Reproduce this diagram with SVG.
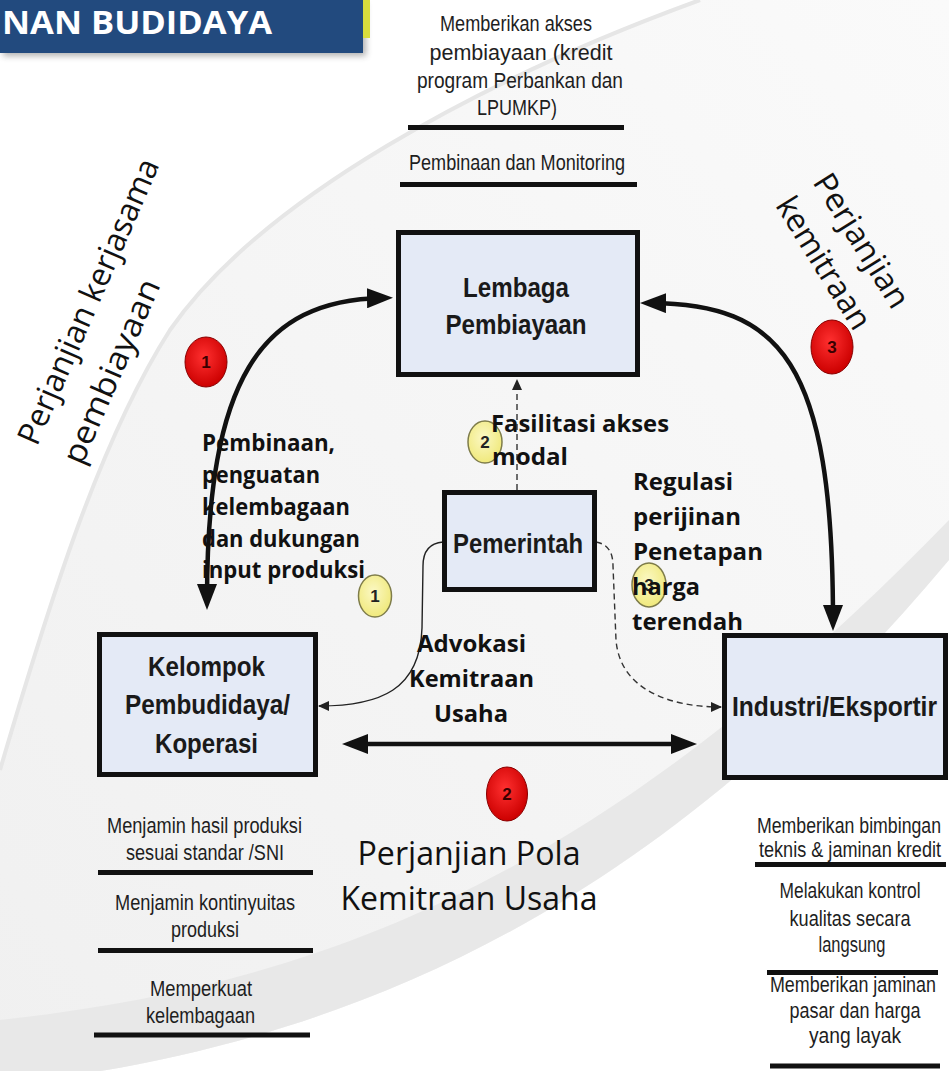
<svg xmlns="http://www.w3.org/2000/svg" width="949" height="1071" viewBox="0 0 949 1071">
<defs>
<style>
.nar{font-family:"Liberation Sans Narrow","Liberation Sans",Arial,sans-serif;font-size:22px;fill:#1e1e1e;text-anchor:middle}
.nodeT{font-family:"Liberation Sans Narrow","Liberation Sans",Arial,sans-serif;font-size:28px;font-weight:bold;fill:#1a1a1a;text-anchor:middle}
.lbl{font-family:"Open Sans","Noto Sans",sans-serif;font-size:23px;font-weight:bold;fill:#111}
.big{font-family:"Open Sans","Noto Sans",sans-serif;font-size:32px;fill:#111}
.num{font-family:"Liberation Sans Narrow","Liberation Sans",Arial,sans-serif;font-size:17px;font-weight:bold;text-anchor:middle}
.box{fill:#e4eaf6;stroke:#111;stroke-width:5}
.bar{stroke:#111;stroke-width:5}
.thick{fill:none;stroke:#111;stroke-width:4.5}
.thin{fill:none;stroke:#222;stroke-width:1.4}
.dash{fill:none;stroke:#333;stroke-width:1.4;stroke-dasharray:6 4}
.red{fill:url(#gRed);stroke:#8a0000;stroke-width:1}
.yel{fill:url(#gYel);stroke:#7e7c4a;stroke-width:1.5}
</style>
<linearGradient id="gBg" x1="1" y1="0" x2="0" y2="1">
<stop offset="0" stop-color="#fafafa"/>
<stop offset="1" stop-color="#f0f0f0"/>
</linearGradient>
<radialGradient id="gRed" cx="0.45" cy="0.4" r="0.6">
<stop offset="0" stop-color="#ff3030"/>
<stop offset="1" stop-color="#cc0000"/>
</radialGradient>
<radialGradient id="gYel" cx="0.45" cy="0.4" r="0.6">
<stop offset="0" stop-color="#fbf8c4"/>
<stop offset="1" stop-color="#f0e97c"/>
</radialGradient>
<filter id="shadow" x="-10%" y="-20%" width="120%" height="160%">
<feGaussianBlur stdDeviation="3"/>
</filter>
<marker id="bigHead" markerUnits="userSpaceOnUse" markerWidth="26" markerHeight="20" refX="16" refY="10" orient="auto-start-reverse">
<path d="M0,0 L26,10 L0,20 z" fill="#111"/>
</marker>
<marker id="smallHead" markerUnits="userSpaceOnUse" markerWidth="11" markerHeight="10" refX="10" refY="5" orient="auto-start-reverse">
<path d="M0,0 L11,5 L0,10 z" fill="#222"/>
</marker>
</defs>

<g id="background">
<rect x="0" y="0" width="949" height="1071" fill="#ffffff"/>
<path d="M 700,0 C 480,80 260,200 170,330 C 100,440 50,600 0,770 L 0,1085 C 320,1050 640,930 949,560 L 949,0 Z" fill="url(#gBg)"/>
<path d="M 0,1020 C 320,985 600,880 949,520 L 949,560 C 640,930 320,1050 0,1085 Z" fill="#e8e8e8"/>
<path d="M 700,0 C 480,80 260,200 170,330 C 100,440 50,600 0,770" fill="none" stroke="#e6e6e6" stroke-width="4"/>
</g>

<g id="header">
<rect x="3" y="3" width="363" height="53" fill="#555" opacity="0.45" filter="url(#shadow)"/>
<rect x="362" y="0" width="8" height="38" fill="#d8dc3c"/>
<rect x="0" y="0" width="363" height="53" fill="#224a7e"/>
<text x="2" y="34" font-family="'Open Sans','Noto Sans',sans-serif" font-size="32" font-weight="bold" fill="#ffffff" textLength="270" lengthAdjust="spacingAndGlyphs">NAN BUDIDAYA</text>
</g>

<g id="notes-lembaga">
<text class="nar" x="516" y="31" textLength="152" lengthAdjust="spacingAndGlyphs">Memberikan akses</text>
<text class="nar" x="521" y="60" textLength="183" lengthAdjust="spacingAndGlyphs">pembiayaan (kredit</text>
<text class="nar" x="520" y="88" textLength="206" lengthAdjust="spacingAndGlyphs">program Perbankan dan</text>
<text class="nar" x="517" y="115" textLength="80" lengthAdjust="spacingAndGlyphs">LPUMKP)</text>
<line class="bar" x1="408" y1="127.5" x2="624" y2="127.5"/>
<text class="nar" x="517" y="170" textLength="216" lengthAdjust="spacingAndGlyphs">Pembinaan dan Monitoring</text>
<line class="bar" x1="400" y1="184.5" x2="637" y2="184.5"/>
</g>

<g id="notes-kelompok">
<text class="nar" x="204.5" y="833" textLength="195" lengthAdjust="spacingAndGlyphs">Menjamin hasil produksi</text>
<text class="nar" x="205" y="860" textLength="158" lengthAdjust="spacingAndGlyphs">sesuai standar /SNI</text>
<line class="bar" x1="98" y1="872.5" x2="313" y2="872.5"/>
<text class="nar" x="205" y="910" textLength="180" lengthAdjust="spacingAndGlyphs">Menjamin kontinyuitas</text>
<text class="nar" x="205" y="937" textLength="68" lengthAdjust="spacingAndGlyphs">produksi</text>
<line class="bar" x1="98" y1="950.5" x2="313" y2="950.5"/>
<text class="nar" x="201" y="996" textLength="102" lengthAdjust="spacingAndGlyphs">Memperkuat</text>
<text class="nar" x="200.5" y="1023" textLength="109" lengthAdjust="spacingAndGlyphs">kelembagaan</text>
<line class="bar" x1="94" y1="1035" x2="310" y2="1035"/>
</g>

<g id="notes-industri">
<g transform="scale(0.82,1)">
<text class="nar" x="1035.4" y="833" textLength="224.4" lengthAdjust="spacingAndGlyphs">Memberikan bimbingan</text>
<text class="nar" x="1036.6" y="857" textLength="222" lengthAdjust="spacingAndGlyphs">teknis &amp; jaminan kredit</text>
<text class="nar" x="1036.6" y="898" textLength="172" lengthAdjust="spacingAndGlyphs">Melakukan kontrol</text>
<text class="nar" x="1036.6" y="926" textLength="147.6" lengthAdjust="spacingAndGlyphs">kualitas secara</text>
<text class="nar" x="1039" y="952" textLength="81.7" lengthAdjust="spacingAndGlyphs">langsung</text>
<text class="nar" x="1040.2" y="992" textLength="202.4" lengthAdjust="spacingAndGlyphs">Memberikan jaminan</text>
<text class="nar" x="1042.7" y="1018" textLength="159.8" lengthAdjust="spacingAndGlyphs">pasar dan harga</text>
<text class="nar" x="1042.7" y="1043" textLength="112.2" lengthAdjust="spacingAndGlyphs">yang layak</text>
</g>
<line class="bar" x1="755" y1="864.5" x2="946" y2="864.5"/>
<line class="bar" x1="767" y1="972.5" x2="938" y2="972.5"/>
<line class="bar" x1="770" y1="1066" x2="940" y2="1066"/>
</g>

<g id="connectors">
<path class="thick" d="M 383,298 C 260,300 207,380 207,600" marker-start="url(#bigHead)" marker-end="url(#bigHead)"/>
<path class="thick" d="M 650,303 C 780,304 833,360 833,621" marker-start="url(#bigHead)" marker-end="url(#bigHead)"/>
<path class="thick" d="M 352,744 L 687,744" marker-start="url(#bigHead)" marker-end="url(#bigHead)"/>
<path class="dash" d="M 517,490 L 517,380" marker-end="url(#smallHead)"/>
<path class="thin" d="M 443,542 C 430,543 423,550 423,566 L 422,628 C 420,690 380,706 319,706" marker-end="url(#smallHead)"/>
<path class="dash" d="M 596,542 C 607,544 613,551 613,566 L 616,640 C 620,690 670,707 721,707" marker-end="url(#smallHead)"/>
</g>

<g id="node-lembaga">
<rect class="box" x="398.5" y="232.5" width="239" height="142"/>
<text class="nodeT" x="516" y="297" textLength="106" lengthAdjust="spacingAndGlyphs">Lembaga</text>
<text class="nodeT" x="516" y="334" textLength="141" lengthAdjust="spacingAndGlyphs">Pembiayaan</text>
</g>

<g id="node-pemerintah">
<rect class="box" x="444.5" y="492.5" width="150" height="97"/>
<text class="nodeT" x="518" y="553" textLength="130" lengthAdjust="spacingAndGlyphs">Pemerintah</text>
</g>

<g id="node-kelompok">
<rect class="box" x="99.5" y="634.5" width="216" height="140"/>
<text class="nodeT" x="206.5" y="676" textLength="117" lengthAdjust="spacingAndGlyphs">Kelompok</text>
<text class="nodeT" x="207.5" y="714" textLength="165" lengthAdjust="spacingAndGlyphs">Pembudidaya/</text>
<text class="nodeT" x="206.5" y="753" textLength="103" lengthAdjust="spacingAndGlyphs">Koperasi</text>
</g>

<g id="node-industri">
<rect class="box" x="724.5" y="635.5" width="221" height="142"/>
<g transform="scale(0.82,1)">
<text class="nodeT" x="1017.7" y="716" textLength="250" lengthAdjust="spacingAndGlyphs">Industri/Eksportir</text>
</g>
</g>

<g id="badges">
<ellipse class="red" cx="206" cy="362" rx="21" ry="25"/>
<text class="num" x="206" y="368" fill="#3a0000">1</text>
<ellipse class="red" cx="507" cy="794" rx="20.5" ry="27"/>
<text class="num" x="507" y="800" fill="#3a0000">2</text>
<ellipse class="red" cx="832" cy="347" rx="21" ry="27"/>
<text class="num" x="832" y="353" fill="#3a0000">3</text>
<ellipse class="yel" cx="485" cy="442" rx="17" ry="21"/>
<text class="num" x="485" y="448" fill="#222">2</text>
<ellipse class="yel" cx="375" cy="596" rx="16.5" ry="21"/>
<text class="num" x="375" y="602" fill="#222">1</text>
<ellipse class="yel" cx="649" cy="585" rx="17" ry="22"/>
<text class="num" x="649" y="591" fill="#222">3</text>
</g>

<g id="labels">
<text class="lbl" x="202" y="451" textLength="133" lengthAdjust="spacingAndGlyphs">Pembinaan,</text>
<text class="lbl" x="202" y="483" textLength="118" lengthAdjust="spacingAndGlyphs">penguatan</text>
<text class="lbl" x="202" y="515" textLength="148" lengthAdjust="spacingAndGlyphs">kelembagaan</text>
<text class="lbl" x="202" y="547" textLength="158" lengthAdjust="spacingAndGlyphs">dan dukungan</text>
<text class="lbl" x="202" y="578" textLength="163" lengthAdjust="spacingAndGlyphs">input produksi</text>
<text class="lbl" x="491" y="432" textLength="178" lengthAdjust="spacingAndGlyphs">Fasilitasi akses</text>
<text class="lbl" x="492" y="465" textLength="76" lengthAdjust="spacingAndGlyphs">modal</text>
<text class="lbl" x="633" y="490" textLength="100" lengthAdjust="spacingAndGlyphs">Regulasi</text>
<text class="lbl" x="633" y="525" textLength="108" lengthAdjust="spacingAndGlyphs">perijinan</text>
<text class="lbl" x="633" y="560" textLength="130" lengthAdjust="spacingAndGlyphs">Penetapan</text>
<text class="lbl" x="632" y="595" textLength="68" lengthAdjust="spacingAndGlyphs">harga</text>
<text class="lbl" x="632" y="630" textLength="111" lengthAdjust="spacingAndGlyphs">terendah</text>
<text class="lbl" x="471.5" y="652" text-anchor="middle" textLength="109" lengthAdjust="spacingAndGlyphs">Advokasi</text>
<text class="lbl" x="471.5" y="687" text-anchor="middle" textLength="125" lengthAdjust="spacingAndGlyphs">Kemitraan</text>
<text class="lbl" x="471" y="722" text-anchor="middle" textLength="74" lengthAdjust="spacingAndGlyphs">Usaha</text>
<text class="big" x="469" y="865" text-anchor="middle" textLength="223" lengthAdjust="spacingAndGlyphs">Perjanjian Pola</text>
<text class="big" x="469" y="910" text-anchor="middle" textLength="257" lengthAdjust="spacingAndGlyphs">Kemitraan Usaha</text>
<g transform="translate(37,447) rotate(-66.5)">
<text class="big" x="0" y="0" textLength="308" lengthAdjust="spacingAndGlyphs">Perjanjian kerjasama</text>
<text class="big" x="0" y="49" textLength="198" lengthAdjust="spacingAndGlyphs">pembiayaan</text>
</g>
<g transform="translate(812,182) rotate(58)">
<text class="big" x="0" y="0" textLength="152" lengthAdjust="spacingAndGlyphs">Perjanjian</text>
<text class="big" x="0" y="44" textLength="150" lengthAdjust="spacingAndGlyphs">kemitraan</text>
</g>
</g>
</svg>
